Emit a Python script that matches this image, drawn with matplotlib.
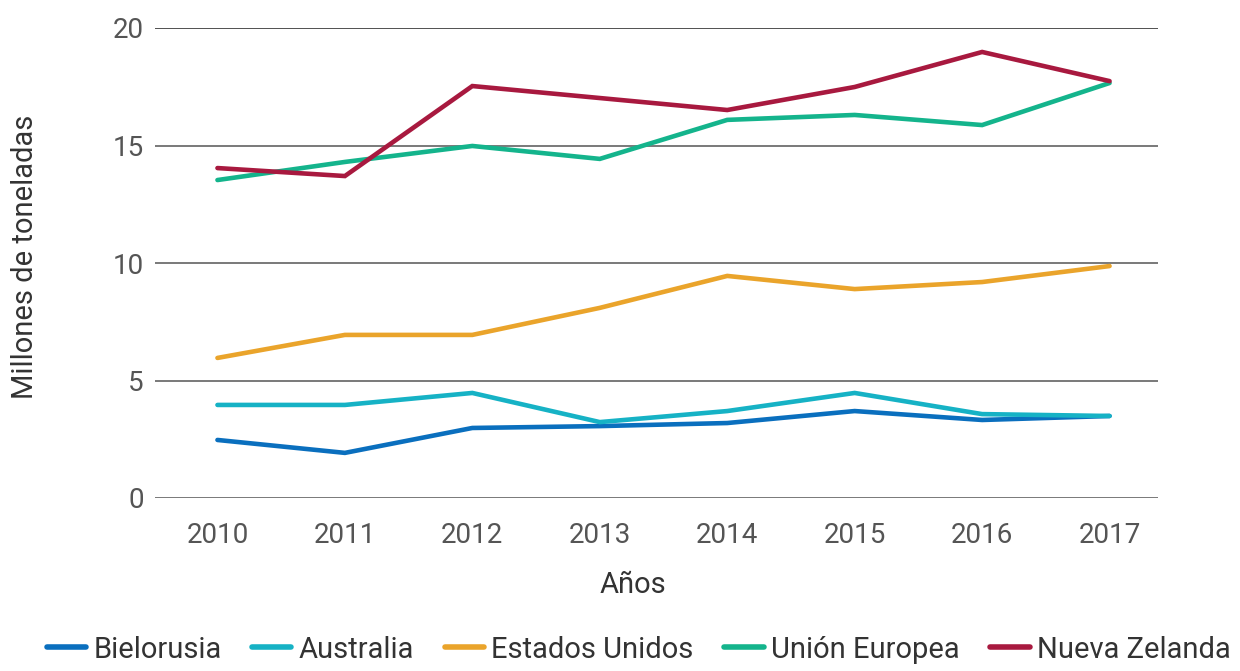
import matplotlib
matplotlib.use("Agg")
import matplotlib.pyplot as plt
from matplotlib.lines import Line2D

plt.rcParams["font.family"] = ["Roboto", "DejaVu Sans"]

# データ
years = [2010, 2011, 2012, 2013, 2014, 2015, 2016, 2017]
bielorusia = [2.47, 1.92, 2.98, 3.06, 3.19, 3.70, 3.32, 3.49]
australia = [3.96, 3.96, 4.47, 3.23, 3.70, 4.47, 3.57, 3.49]
estados_unidos = [5.96, 6.94, 6.94, 8.09, 9.45, 8.89, 9.19, 9.87]
union_europea = [13.53, 14.30, 14.98, 14.43, 16.09, 16.30, 15.87, 17.66]
nueva_zelanda = [14.04, 13.70, 17.53, 17.02, 16.51, 17.49, 18.98, 17.74]

series_names = ["Bielorusia", "Australia", "Estados Unidos", "Unión Europea", "Nueva Zelanda"]
series_colors = ["#0A6FBE", "#16B2C5", "#EAA42B", "#14B48C", "#A8193F"]
yticks = [0, 5, 10, 15, 20]

fig = plt.figure(figsize=(12.4, 6.71), dpi=100)
ax = fig.add_axes([155 / 1240, 1 - 498 / 671, (1158 - 155) / 1240, (498 - 28) / 671])

# グリッド線
for v in yticks:
    ax.axhline(v, color="#222222" if v == 20 else "#555555", lw=1.1, zorder=1)

for vals, name, col in zip([bielorusia, australia, estados_unidos, union_europea, nueva_zelanda],
                           series_names, series_colors):
    ax.plot(years, vals, color=col, lw=3.3, solid_capstyle="round",
            solid_joinstyle="miter", label=name, zorder=3)

ax.set_xlim(2009.51, 2017.38)
ax.set_ylim(0, 20)
ax.set_yticks(yticks)
ax.set_xticks(years)
ax.tick_params(length=0, labelsize=20, labelcolor="#555555")
ax.tick_params(axis="x", pad=17)
ax.tick_params(axis="y", pad=8)
for s in ax.spines.values():
    s.set_visible(False)

ax.set_xlabel("Años", fontsize=21, color="#333333")
ax.xaxis.set_label_coords((633 - 155) / (1158 - 155), -(585 - 498) / (498 - 28), transform=ax.transAxes)
ax.xaxis.label.set_va("center")
ax.set_ylabel("Millones de toneladas", fontsize=21, color="#333333")
ax.yaxis.set_label_coords(-(155 - 25) / (1158 - 155), (498 - 257) / (498 - 28), transform=ax.transAxes)
ax.yaxis.label.set_va("center")

handles = [Line2D([0], [0], color=c, lw=4, solid_capstyle="round") for c in series_colors]
fig.legend(handles, series_names, loc="lower center", bbox_to_anchor=(0.515, -0.028),
           ncol=5, frameon=False, fontsize=21, handlelength=1.35, handletextpad=0.25,
           columnspacing=1.05, labelcolor="#333333")

fig.savefig("out.png", dpi=100)
